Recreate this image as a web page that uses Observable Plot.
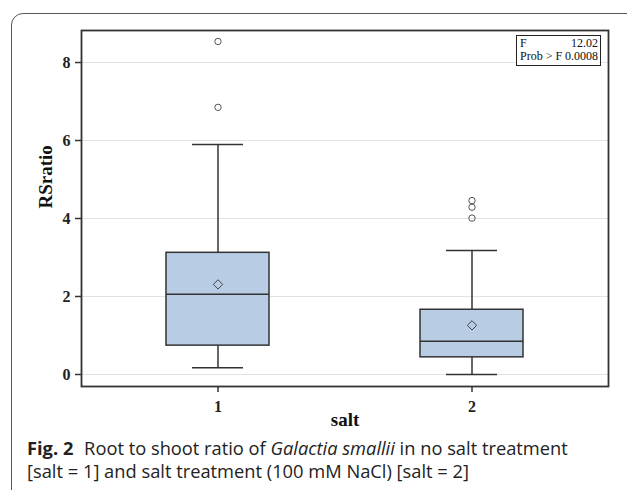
<!DOCTYPE html>
<html>
<head>
<meta charset="utf-8">
<script src="https://cdn.jsdelivr.net/npm/d3@7"></script>
<script src="https://cdn.jsdelivr.net/npm/@observablehq/plot@0.6"></script>
<style>
  html, body { margin: 0; padding: 0; background: #fff; overflow: hidden; }
  #wrap { position: relative; width: 627px; height: 490px; overflow: hidden; }
  #border { position: absolute; left: 11px; top: 13px; width: 700px; height: 600px;
    border: 1.2px solid #555; border-radius: 12px; box-sizing: border-box; }
  #chart { position: absolute; left: 0; top: 0; }
  #stats { position: absolute; left: 516px; top: 35px; width: 85px; height: 31px;
    border: 1.6px solid #222; box-sizing: border-box; background: #fff; white-space: nowrap;
    font-family: "Liberation Serif", serif; font-size: 12px; line-height: 13px; color: #111; padding: 1px 2px 0 3px; }
  #stats div { display: flex; justify-content: space-between; }
  #caption { position: absolute; left: 27px; top: 436px; width: 600px; white-space: nowrap;
    font-family: "Open Sans", sans-serif; font-size: 18.3px; line-height: 23px; color: #222; }
  #caption b { font-weight: 700; margin-right: 6px; }
</style>
</head>
<body>
<div id="wrap">
  <div id="border"></div>
  <div id="chart"></div>
  <div id="stats">
    <div><span>F</span><span>12.02</span></div>
    <div><span>Prob &gt; F</span><span>0.0008</span></div>
  </div>
  <div id="caption"><b>Fig. 2</b> Root to shoot ratio of <i>Galactia smallii</i> in no salt treatment<br>[salt = 1] and salt treatment (100 mM NaCl) [salt = 2]</div>
</div>
<script>
const groups = ["1", "2"];
const lowWhisker = [0.17, 0.00];
const q1 = [0.74, 0.44];
const median = [2.06, 0.85];
const q3 = [3.12, 1.66];
const highWhisker = [5.90, 3.18];
const mean = [2.31, 1.26];
const outlierGroup = ["1", "1", "2", "2", "2"];
const outlierValue = [8.54, 6.85, 4.46, 4.29, 4.01];
const yTicks = [0, 2, 4, 6, 8];
const xLabel = "salt";
const yLabel = "RSratio";

const boxes = groups.map((g, i) => ({
  g, lo: lowWhisker[i], q1: q1[i], med: median[i], q3: q3[i], hi: highWhisker[i], mean: mean[i]
}));
const outliers = outlierGroup.map((g, i) => ({ g, v: outlierValue[i] }));

const serif = "'Liberation Serif', 'Times New Roman', serif";

const plot = Plot.plot({
  width: 627,
  height: 432,
  marginLeft: 81,
  marginRight: 19,
  marginTop: 30,
  marginBottom: 46,
  style: { fontFamily: serif, fontSize: "16px", fontWeight: "bold", color: "#222", background: "transparent" },
  x: { type: "band", domain: groups, paddingInner: 0.596, paddingOuter: 0.333, label: null },
  y: { domain: [-0.308, 8.821], label: null },
  marks: [
    Plot.gridY(yTicks, { stroke: "#e2e2e2", strokeOpacity: 1, strokeWidth: 1.2 }),
    Plot.ruleX(boxes, { x: "g", y1: "lo", y2: "q1", stroke: "#333", strokeWidth: 1.5 }),
    Plot.ruleX(boxes, { x: "g", y1: "q3", y2: "hi", stroke: "#333", strokeWidth: 1.5 }),
    Plot.tickY(boxes, { x: "g", y: "lo", stroke: "#333", strokeWidth: 1.5, insetLeft: 26, insetRight: 26 }),
    Plot.tickY(boxes, { x: "g", y: "hi", stroke: "#333", strokeWidth: 1.5, insetLeft: 26, insetRight: 26 }),
    Plot.barY(boxes, { x: "g", y1: "q1", y2: "q3", fill: "#b8cde4", stroke: "#333", strokeWidth: 1.5 }),
    Plot.tickY(boxes, { x: "g", y: "med", stroke: "#333", strokeWidth: 1.5 }),
    Plot.dot(boxes, { x: "g", y: "mean", symbol: "diamond2", r: 4.2, stroke: "#444", strokeWidth: 1, fill: "none" }),
    Plot.dot(outliers, { x: "g", y: "v", symbol: "circle", r: 3.2, stroke: "#555", strokeWidth: 1, fill: "none" }),
    Plot.axisY(yTicks, { tickSize: 6, tickPadding: 5, stroke: "#333", strokeWidth: 1.5, fontSize: 16, fontWeight: "bold", label: null }),
    Plot.axisX({ tickSize: 6, tickPadding: 8, stroke: "#333", strokeWidth: 1.5, fontSize: 16, fontWeight: "bold", label: null }),
    Plot.frame({ stroke: "#333", strokeWidth: 1.8 }),
    Plot.text([yLabel], { frameAnchor: "left", dx: -36, rotate: -90, fontSize: 19, fontWeight: "bold", fill: "#111" }),
    Plot.text([xLabel], { frameAnchor: "bottom", dy: 39, fontSize: 19, fontWeight: "bold", fill: "#111" })
  ]
});
document.getElementById("chart").appendChild(plot);
</script>
</body>
</html>
